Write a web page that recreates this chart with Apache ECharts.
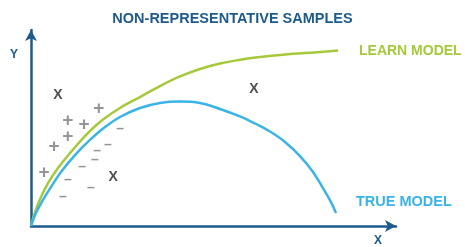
<!DOCTYPE html>
<html><head><meta charset="utf-8">
<script src="https://cdn.jsdelivr.net/npm/echarts@6/dist/echarts.min.js"></script>
<style>html,body{margin:0;padding:0;background:#fff}#c{width:465px;height:247px}</style>
</head><body><div id="c"></div>
<script>
const learnModel = [[0,0],[1.1,7.1],[2.74,14.8],[4.66,21.9],[7.4,29.6],[10.96,37.8],[14.79,45.9],[18.9,53.1],[24.38,60.2],[29.86,65.8],[35.34,71.4],[40.82,76.3],[46.3,80.1],[51.78,82.9],[57.26,84.8],[62.74,86.2],[69.04,87.4],[78.36,88.7],[84.11,89.5]];
const trueModel = [[0,0],[1.37,6.6],[3.29,13.3],[5.48,19.9],[8.22,27.6],[12.05,36.2],[16.16,43.9],[20.27,50.5],[24.38,55.6],[29.86,60.2],[35.34,62.8],[40.82,63.5],[46.3,62.8],[51.78,59.7],[57.26,55.9],[61.37,52.3],[65.48,48.2],[69.59,42.9],[73.7,35.7],[77.26,27.6],[80.27,18.4],[82.19,12.2],[83.56,6.6]];
const xPoints = [[7.4,66.8],[22.5,25.0],[61.1,69.9]];
const plusPoints = [[18.6,59.7],[10.1,53.6],[14.5,51.5],[10.1,45.4],[6.3,40.3],[3.56,27.0]];
const minusPoints = [[24.4,49.5],[21.1,41.3],[18.1,38.3],[17.5,33.7],[14.0,30.1],[10.1,23.5],[16.4,19.4],[8.77,14.8]];
const titleText = 'NON-REPRESENTATIVE SAMPLES';
const learnLabel = 'LEARN MODEL';
const trueLabel = 'TRUE MODEL';
const axisColor = '#1d5b8c';
const green = '#a5c93a';
const blue = '#3ab4e8';
const FONT = 'Liberation Sans, Arial, sans-serif';
const chart = echarts.init(document.getElementById('c'));
function markSeries(data, ch, color, size){
  return {type:'scatter', data:data, symbolSize:1, itemStyle:{color:'rgba(0,0,0,0)'},
    label:{show:true, position:'inside', formatter:ch, color:color, fontSize:size, fontWeight:'bold', fontFamily:FONT}, silent:true, z:5};
}
chart.setOption({
  animation:false,
  title:{text:titleText, left:'center', top:6, textStyle:{color:axisColor, fontSize:14.5, fontWeight:'bold', fontFamily:FONT}},
  grid:{left:31, top:30, width:365, height:196, containLabel:false},
  xAxis:{type:'value', min:0, max:100, axisLine:{show:true, onZero:false, symbol:['none','arrow'], symbolSize:[9,11], lineStyle:{color:axisColor, width:2.5}}, axisTick:{show:false}, axisLabel:{show:false}, splitLine:{show:false}},
  yAxis:{type:'value', min:0, max:100, axisLine:{show:true, onZero:false, symbol:['none','arrow'], symbolSize:[9,11], lineStyle:{color:axisColor, width:2.5}}, axisTick:{show:false}, axisLabel:{show:false}, splitLine:{show:false}},
  graphic:[
    {type:'text', x:14, y:55, style:{text:'Y', fill:axisColor, font:'bold 12px '+FONT, align:'center', verticalAlign:'middle'}},
    {type:'text', x:378, y:241, style:{text:'X', fill:axisColor, font:'bold 12px '+FONT, align:'center', verticalAlign:'middle'}},
    {type:'text', x:359, y:51, style:{text:learnLabel, fill:green, font:'bold 14px '+FONT, align:'left', verticalAlign:'middle'}},
    {type:'text', x:356, y:202, style:{text:trueLabel, fill:blue, font:'bold 14.5px '+FONT, align:'left', verticalAlign:'middle'}}
  ],
  series:[
    {type:'line', data:learnModel, smooth:0.4, showSymbol:false, lineStyle:{color:green, width:2.5}, silent:true},
    {type:'line', data:trueModel, smooth:0.4, showSymbol:false, lineStyle:{color:blue, width:2.5}, silent:true},
    markSeries(xPoints, 'X', '#222', 14),
    markSeries(plusPoints, '+', '#7a7a7a', 19),
    markSeries(minusPoints, '–', '#7a7a7a', 14)
  ]
});
</script></body></html>
